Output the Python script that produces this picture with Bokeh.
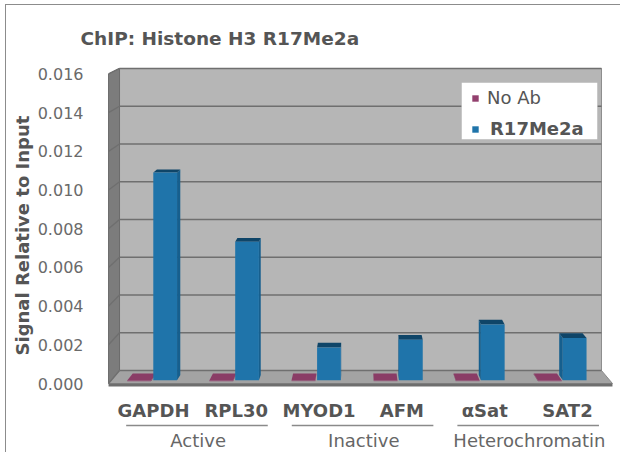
import numpy as np
from bokeh.plotting import figure
from bokeh.models import (Range1d, FixedTicker, PrintfTickFormatter, Title,
                          Legend, LegendItem, BoxAnnotation, ColumnDataSource)
from bokeh.embed import file_html
from bokeh.resources import INLINE
from bokeh.core.properties import value

# ---------------- data ----------------
title_text = "ChIP: Histone H3 R17Me2a"
y_title = "Signal Relative to Input"
genes = ["GAPDH", "RPL30", "MYOD1", "AFM", "\u03b1Sat", "SAT2"]
groups = ["Active", "Inactive", "Heterochromatin"]
group_members = [["GAPDH", "RPL30"], ["MYOD1", "AFM"], ["\u03b1Sat", "SAT2"]]
series_names = ["No Ab", "R17Me2a"]
no_ab = [0.00003, 0.00003, 0.00003, 0.00003, 0.00003, 0.00003]
r17me2a = [0.0108, 0.0072, 0.0017, 0.0021, 0.0029, 0.0022]
y_ticks = [0.000, 0.002, 0.004, 0.006, 0.008, 0.010, 0.012, 0.014, 0.016]

FONT = "DejaVu Sans"

# ---------------- 3D-ish projection (style) ----------------
n = len(genes)
cx = (n - 1) / 2.0
SHRINK = 0.0436
YS = 0.0242
YD = 0.000672


def proj(i, v, d):
    return cx + (i - cx) * (1 - SHRINK * d), v * (1 - YS * d) + YD * d


def face(pts):
    xs, ys = zip(*[proj(*p) for p in pts])
    return list(xs), list(ys)


# screen px -> data helpers for layout items only
def PX(x):
    return (x - 153) / 82.8


def PY(y):
    return (383 - y) / 19344.0


W, H = 620, 452
FL, FT, FR, FB = 100, 50, 616, 452   # frame box in px

p = figure(width=W, height=H, output_backend="svg", toolbar_location=None,
           x_axis_location=None,
           x_range=Range1d(PX(FL), PX(FR)), y_range=Range1d(PY(FB), PY(FT)),
           min_border_left=FL, min_border_right=W - FR, min_border_top=FT,
           min_border_bottom=H - FB)
p.title = Title(text=title_text, align="left", offset=80 - FL, standoff=4,
                text_font=FONT, text_font_size="18.5px", text_font_style="bold",
                text_color="#555555")
p.outline_line_color = None
p.background_fill_color = "white"
p.border_fill_alpha = 0
p.xgrid.grid_line_color = None
p.ygrid.grid_line_color = None

ax = p.yaxis[0]
ax.ticker = FixedTicker(ticks=y_ticks)
ax.formatter = PrintfTickFormatter(format="%.3f")
ax.axis_line_color = None
ax.major_tick_line_color = None
ax.minor_tick_line_color = None
ax.major_label_standoff = 11
ax.major_label_text_font = FONT
ax.major_label_text_font_size = "16px"
ax.major_label_text_color = "#6a6a6a"

# vertical axis title (starts 97 px above the frame bottom, like the reference)
p.add_layout(Title(text=y_title, align="left", offset=FB - 355, standoff=4,
                   text_font=FONT, text_font_size="18px", text_font_style="bold",
                   text_color="#555555"), "left")

# ---------------- walls and floor ----------------
i_L = -0.543
i_R = (n - 1) + 0.543
vtop = y_ticks[-1]
slab = 0.00016

bx, by = face([(i_L, 0, 1), (i_R, 0, 1), (i_R, vtop, 1), (i_L, vtop, 1)])
p.patch(bx, by, fill_color="#b6b6b6", line_color="#8c8c8c", line_width=1)
sx_, sy_ = face([(i_L, 0, 0), (i_L, 0, 1), (i_L, vtop, 1), (i_L, vtop, 0)])
p.patch(sx_, sy_, fill_color="#7c7c7c", line_color="#6c6c6c", line_width=1)
fx, fy = face([(i_L, 0, 0), (i_R, 0, 0), (i_R, 0, 1), (i_L, 0, 1)])
p.patch(fx, fy, fill_color="#a3a3a3", line_color="#8a8a8a", line_width=1)
sbx, sby = face([(i_L, 0, 0), (i_R, 0, 0), (i_R, -slab, 0), (i_L, -slab, 0)])
p.patch(sbx, sby, fill_color="#6e6e6e", line_color=None)

gxs, gys = [], []
for t in y_ticks:
    a, b = face([(i_L, t, 1), (i_R, t, 1)])
    gxs.append(a); gys.append(b)
    a, b = face([(i_L, t, 0), (i_L, t, 1)])
    gxs.append(a); gys.append(b)
p.multi_line(gxs, gys, line_color="#6f6f6f", line_width=1.4)

# ---------------- bars ----------------
series = [
    dict(vals=no_ab, x0=-0.34, x1=-0.05, d0=0.18, d1=0.72,
         front="#93406e", side="#7a3259", top="#8a3c66"),
    dict(vals=r17me2a, x0=-0.03, x1=0.26, d0=0.25, d1=0.65,
         front="#1f74aa", side="#165f8e", top="#0f4568"),
]
legend_renderers = []
for s in series:
    F = dict(xs=[], ys=[]); S = dict(xs=[], ys=[]); T = dict(xs=[], ys=[])
    for i, v in enumerate(s["vals"]):
        a0, a1 = i + s["x0"], i + s["x1"]
        d0, d1 = s["d0"], s["d1"]
        xs, ys = face([(a0, 0, d0), (a1, 0, d0), (a1, v, d0), (a0, v, d0)])
        F["xs"].append(xs); F["ys"].append(ys)
        sidex = a1 if (a0 + a1) / 2 < cx else a0
        xs, ys = face([(sidex, 0, d0), (sidex, 0, d1), (sidex, v, d1), (sidex, v, d0)])
        S["xs"].append(xs); S["ys"].append(ys)
        xs, ys = face([(a0, v, d0), (a1, v, d0), (a1, v, d1), (a0, v, d1)])
        T["xs"].append(xs); T["ys"].append(ys)
    p.patches("xs", "ys", source=ColumnDataSource(S), fill_color=s["side"], line_color=None)
    p.patches("xs", "ys", source=ColumnDataSource(T), fill_color=s["top"], line_color=None)
    rf = p.patches("xs", "ys", source=ColumnDataSource(F), fill_color=s["front"], line_color=None)
    legend_renderers.append(rf)

# ---------------- category labels ----------------
p.text(x=list(range(n)), y=[PY(410)] * n, text=genes, text_align="center",
       text_baseline="alphabetic", text_font=value(FONT), text_font_size="18px",
       text_font_style="bold", text_color="#555555")

gx, glx, gly = [], [], []
for members in group_members:
    idx = [genes.index(m) for m in members]
    a, b = min(idx) - 0.33, max(idx) + 0.38
    glx.append([a, b]); gly.append([PY(425), PY(425)])
    gx.append((min(idx) + max(idx)) / 2 + 0.04)
p.multi_line(glx, gly, line_color="#8a8a8a", line_width=1.5)
p.text(x=gx, y=[PY(440)] * len(groups), text=groups, text_align="center",
       text_baseline="alphabetic", text_font=value(FONT), text_font_size="18px",
       text_color="#666666")

# ---------------- legend ----------------
p.add_layout(BoxAnnotation(left=PX(461), right=PX(597), top=PY(82), bottom=PY(139),
                           fill_color="white", fill_alpha=1, line_color="#9a9a9a",
                           line_width=1))
for name, r, ytop, style, standoff in [
        (series_names[0], legend_renderers[0], 87, "normal", 8),
        (series_names[1], legend_renderers[1], 118, "bold", 11)]:
    lg = Legend(items=[LegendItem(label=name, renderers=[r])],
                location=(471 - FL, FB - (ytop + 21)), padding=0, margin=0,
                spacing=0, glyph_width=8, glyph_height=8,
                label_standoff=standoff, label_text_font=FONT,
                label_text_font_size="18px", label_text_font_style=style,
                label_text_color="#555555", border_line_color=None,
                background_fill_alpha=0)
    p.add_layout(lg)

p.styles = {"box-shadow": "inset 5px 4px 0 0 #ffffff, inset 6px 5px 0 0 #8c8c8c"}

open("out.html", "w").write(file_html(p, INLINE))
